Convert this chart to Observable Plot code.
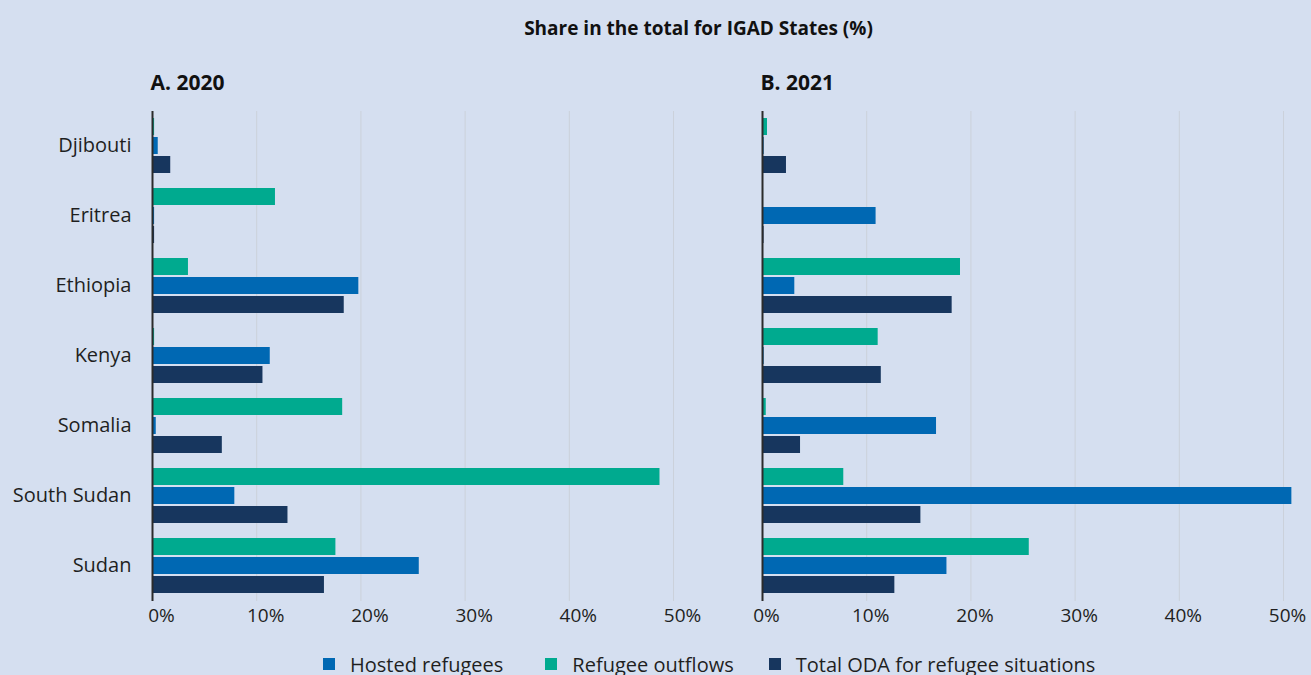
<!DOCTYPE html>
<html>
<head>
<meta charset="utf-8">
<script src="https://cdn.jsdelivr.net/npm/d3@7"></script>
<script src="https://cdn.jsdelivr.net/npm/@observablehq/plot@0.6"></script>
<style>
  html, body { margin: 0; padding: 0; background: #d5dff0; overflow: hidden; }
  #wrap { width: 1311px; height: 675px; position: relative; font-family: "Open Sans", sans-serif; color: #1f1f1f; }
  #title { height: 56px; line-height: 56px; text-align: center; font-weight: bold; font-size: 19px; padding-left: 86px; box-sizing: border-box; color: #111; }
  #legend { display: flex; justify-content: flex-start; align-items: center; height: 48px; font-size: 20px; padding-left: 323px; box-sizing: border-box; }
  .item { display: flex; align-items: center; margin-right: 42px; }
  .item:nth-child(2) { margin-right: 35px; }
  .sw { width: 12px; height: 12px; margin-right: 15px; }
  svg { display: block; }
</style>
</head>
<body>
<div id="wrap">
  <div id="title">Share in the total for IGAD States (%)</div>
  <div id="chart"></div>
  <div id="legend"></div>
</div>
<script>
const countries = ["Djibouti", "Eritrea", "Ethiopia", "Kenya", "Somalia", "South Sudan", "Sudan"];
const years = ["2020", "2021"];
const panelLabels = ["A. 2020", "B. 2021"];
const series = ["Refugee outflows", "Hosted refugees", "Total ODA for refugee situations"];
const legendOrder = ["Hosted refugees", "Refugee outflows", "Total ODA for refugee situations"];
const seriesColors = ["#00aa8f", "#0068b3", "#17365e"];
const xTicks = [0, 10, 20, 30, 40, 50];

const hosted2020   = [0.55, 0.2, 19.8, 11.3, 0.36, 7.9, 25.6];
const outflows2020 = [0.2, 11.8, 3.45, 0.2, 18.25, 48.7, 17.6];
const oda2020      = [1.75, 0.2, 18.4, 10.6, 6.7, 13.0, 16.5];
const hosted2021   = [0.16, 10.9, 3.1, 0.16, 16.7, 50.8, 17.7];
const outflows2021 = [0.48, 0.1, 19.0, 11.1, 0.36, 7.8, 25.6];
const oda2021      = [2.3, 0.15, 18.2, 11.4, 3.65, 15.2, 12.7];

const bySeries = {
  "2020": {"Refugee outflows": outflows2020, "Hosted refugees": hosted2020, "Total ODA for refugee situations": oda2020},
  "2021": {"Refugee outflows": outflows2021, "Hosted refugees": hosted2021, "Total ODA for refugee situations": oda2021}
};
const rows = [];
for (const yr of years) for (const s of series) countries.forEach((c, i) => rows.push({year: yr, series: s, country: c, value: bySeries[yr][s][i]}));
const panels = years.map((y, i) => ({year: y, country: countries[0], label: panelLabels[i]}));
const tickRows = [];
for (const yr of years) for (const t of xTicks) tickRows.push({year: yr, country: countries[countries.length - 1], tick: t});

const tickText = (yr, dx) => Plot.text(tickRows.filter(d => d.year === yr), {
  fx: "year", fy: "country", x: "tick", text: d => d.tick + "%",
  frameAnchor: "bottom", lineAnchor: "top", dy: 7, dx, fontSize: 19, fill: "#1f1f1f"
});

const chart = Plot.plot({
  width: 1311, height: 584,
  marginTop: 52, marginBottom: 37, marginLeft: 152, marginRight: 4,
  style: {background: "transparent", fontFamily: "Open Sans, sans-serif", fontSize: "20px", color: "#1f1f1f"},
  fx: {domain: years, axis: null, paddingInner: 0.1066, paddingOuter: 0},
  fy: {domain: countries, axis: null, paddingInner: 0, paddingOuter: 0},
  x: {domain: [0, 52.3], axis: null},
  y: {domain: series, axis: null, paddingInner: 0.08, paddingOuter: 0.38},
  color: {domain: series, range: seriesColors},
  marks: [
    Plot.gridX(xTicks.slice(1), {stroke: "#cbd1da", strokeOpacity: 1, strokeWidth: 1}),
    Plot.barX(rows, {fx: "year", fy: "country", y: "series", x: "value", fill: "series"}),
    Plot.ruleX([0], {stroke: "#2b2b2b", strokeWidth: 2}),
    tickText("2020", 9),
    tickText("2021", 4),
    Plot.axisFy({anchor: "left", tickSize: 0, tickPadding: 21, dy: -1, label: null, fill: "#1f1f1f"}),
    Plot.text(panels, {fx: "year", fy: "country", text: "label", frameAnchor: "top-left", lineAnchor: "middle", dy: -28, dx: -2, fontWeight: "bold", fontSize: 21, fill: "#111"})
  ]
});
document.getElementById("chart").appendChild(chart);

const legend = document.getElementById("legend");
for (const s of legendOrder) {
  const item = document.createElement("div");
  item.className = "item";
  const sw = document.createElement("div");
  sw.className = "sw";
  sw.style.background = seriesColors[series.indexOf(s)];
  const t = document.createElement("span");
  t.textContent = s;
  item.appendChild(sw); item.appendChild(t);
  legend.appendChild(item);
}
</script>
</body>
</html>
